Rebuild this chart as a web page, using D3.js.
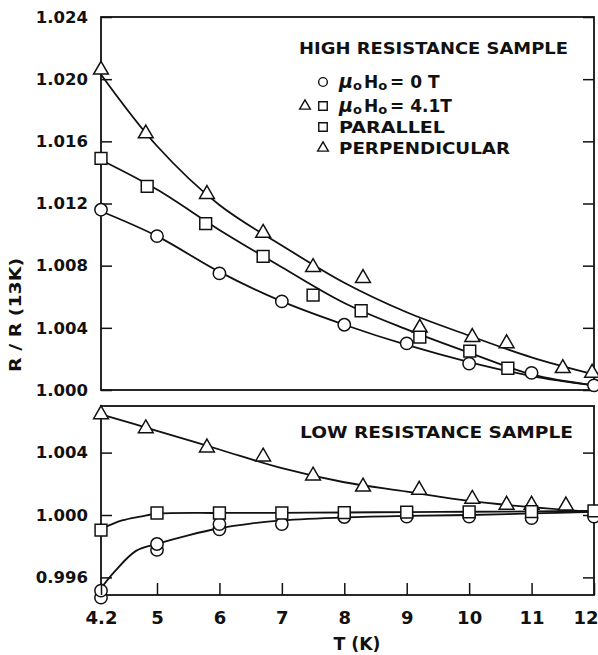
<!DOCTYPE html>
<meta charset="utf-8">
<script src="https://d3js.org/d3.v7.min.js"></script>
<style>
  body { margin: 0; background: #fff; }
  text { font-family: "DejaVu Sans", "Liberation Sans", sans-serif; font-weight: bold; fill: #111; }
</style>
<div id="chart"></div>
<script>
// ---- data ----
// high resistance sample (upper panel)
var hiCircleT = [4.2, 5, 6, 7, 8, 9, 10, 11, 12]
var hiCircleR = [1.0116, 1.0099, 1.0075, 1.0057, 1.0042, 1.0030, 1.0017, 1.0011, 1.0003]
var hiSquareT = [4.2, 4.86, 5.78, 6.7, 7.5, 8.27, 9.21, 10.01, 10.62]
var hiSquareR = [1.0149, 1.0131, 1.0107, 1.0086, 1.0061, 1.0051, 1.0034, 1.0025, 1.0014]
var hiTriT = [4.2, 4.84, 5.8, 6.7, 7.5, 8.3, 9.21, 10.05, 10.6, 11.5, 11.97]
var hiTriR = [1.0206, 1.0165, 1.0126, 1.0101, 1.0079, 1.0072, 1.0040, 1.0034, 1.0030, 1.0014, 1.0011]
// drawn fit curves
var fitT = [4.2, 5, 6, 7, 8, 9, 10, 11, 12]
var hiCircleFit = [1.0115, 1.0099, 1.0076, 1.0057, 1.0042, 1.0029, 1.0018, 1.0009, 1.0003]
var hiSquareFit = [1.0148, 1.0129, 1.0103, 1.0079, 1.0056, 1.0039, 1.0024, 1.0010, 1.0003]
var hiTriFit = [1.0203, 1.0157, 1.0119, 1.0093, 1.0069, 1.0050, 1.0035, 1.0021, 1.0010]

// low resistance sample (lower panel)
var loCircleT = [4.2, 5, 6, 7, 8, 9, 10, 11, 12]
var loCircleR = [0.99515, 0.99814, 0.99942, 0.99942, 0.99987, 0.9999, 0.9999, 0.9998, 0.9999]
var loCircle2T = [4.2, 5, 6]
var loCircle2R = [0.9947, 0.99776, 0.99908]
var loSquareT = [4.2, 5, 6, 7, 8, 9, 10, 11, 12]
var loSquareR = [0.99903, 1.00013, 1.00013, 1.00013, 1.00015, 1.00018, 1.0002, 1.00022, 1.00026]
var loTriT = [4.2, 4.84, 5.8, 6.7, 7.5, 8.3, 9.2, 10.05, 10.6, 11.0, 11.55]
var loTriR = [1.00645, 1.00555, 1.00432, 1.00374, 1.00252, 1.00181, 1.00161, 1.00103, 1.00065, 1.00065, 1.0006]
var loTriFit = [1.00645, 1.0054, 1.0042, 1.0030, 1.0021, 1.0015, 1.0009, 1.0005, 1.0002]
var loSquareFitT = [4.2, 4.5, 4.76, 5, 6, 7, 8, 9, 10, 11, 12]
var loSquareFit = [0.9991, 0.99965, 0.9999, 1.00008, 1.00013, 1.00014, 1.00016, 1.00019, 1.00021, 1.00023, 1.00026]
var loCircleFitT = [4.2, 4.4, 4.7, 5, 5.5, 6, 6.5, 7, 8, 9, 10, 11, 12]
var loCircleFit = [0.9953, 0.9964, 0.9977, 0.99815, 0.9987, 0.99915, 0.99945, 0.99965, 0.99985, 0.99995, 1.0000, 1.0001, 1.0002]

var xTicks = [4.2, 5, 6, 7, 8, 9, 10, 11, 12]
var hiTicks = [1.000, 1.004, 1.008, 1.012, 1.016, 1.020, 1.024]
var loTicks = [0.996, 1.000, 1.004]

const W = 598, H = 655
const svg = d3.select("#chart").append("svg")
  .attr("width", W).attr("height", H)

// x axis of the original is slightly stretched between 4.2 and 5
const x = d3.scaleLinear().domain([4.2, 5, 12]).range([101, 157, 594])
const yHi = d3.scaleLinear().domain([1.000, 1.024]).range([390, 17])
const yLo = d3.scaleLinear().domain([0.99487, 1.00699]).range([595, 406])

function pairs(t, r) { return t.map((d, i) => [d, r[i]]) }

function styleTicks(a, size) {
  a.select(".domain").remove()
  a.selectAll("line").attr("stroke", "#111").attr("stroke-width", 1.5)
  a.selectAll("text").attr("font-size", size)
    .attr("font-family", "DejaVu Sans").attr("font-weight", "bold").attr("fill", "#111")
}

function panel(y, ticks) {
  const g = svg.append("g")
  g.append("rect")
    .attr("x", x.range()[0]).attr("y", y.range()[1])
    .attr("width", x.range()[2] - x.range()[0])
    .attr("height", y.range()[0] - y.range()[1])
    .attr("fill", "none").attr("stroke", "#111").attr("stroke-width", 1.8)

  g.append("g").attr("transform", `translate(${x.range()[0]},0)`)
    .call(d3.axisLeft(y).tickValues(ticks).tickSize(-11).tickPadding(13)
      .tickFormat(d3.format(".3f")))
    .call(a => styleTicks(a, 16.5))

  g.append("g").attr("transform", `translate(${x.range()[2]},0)`)
    .call(d3.axisRight(y).tickValues(ticks).tickSize(-11).tickFormat(""))
    .call(a => styleTicks(a, 16))
  return g
}

const gHi = panel(yHi, hiTicks)
const gLo = panel(yLo, loTicks)

// bottom x axis
svg.append("g").attr("transform", "translate(0,595)")
  .call(d3.axisBottom(x).tickValues(xTicks).tickSize(-12).tickPadding(16)
    .tickFormat(d => d === 4.2 ? "4.2" : d3.format("d")(d)))
  .call(a => styleTicks(a, 18))
  .call(a => a.selectAll("text").filter(d => d === 12)
    .attr("text-anchor", "end").attr("x", 4))

function curve(g, y, t, r) {
  g.append("path")
    .datum(pairs(t, r))
    .attr("fill", "none").attr("stroke", "#111").attr("stroke-width", 1.8)
    .attr("d", d3.line().curve(d3.curveCatmullRom).x(d => x(d[0])).y(d => y(d[1])))
}

const sym = {
  circle: d3.symbol().type(d3.symbolCircle).size(120),
  square: d3.symbol().type(d3.symbolSquare).size(140),
  triangle: d3.symbol().type(d3.symbolTriangle).size(95)
}

function marks(g, y, t, r, kind) {
  g.selectAll(null)
    .data(pairs(t, r))
    .join("path")
    .attr("transform", d => `translate(${x(d[0])},${y(d[1])})`)
    .attr("d", sym[kind])
    .attr("fill", "#fff").attr("stroke", "#111").attr("stroke-width", 1.5)
}

// upper panel
curve(gHi, yHi, fitT, hiTriFit)
curve(gHi, yHi, fitT, hiSquareFit)
curve(gHi, yHi, fitT, hiCircleFit)
marks(gHi, yHi, hiTriT, hiTriR, "triangle")
marks(gHi, yHi, hiCircleT, hiCircleR, "circle")
marks(gHi, yHi, hiSquareT, hiSquareR, "square")

// lower panel
curve(gLo, yLo, fitT, loTriFit)
curve(gLo, yLo, loCircleFitT, loCircleFit)
curve(gLo, yLo, loSquareFitT, loSquareFit)
marks(gLo, yLo, loTriT, loTriR, "triangle")
marks(gLo, yLo, loCircle2T, loCircle2R, "circle")
marks(gLo, yLo, loCircleT, loCircleR, "circle")
marks(gLo, yLo, loSquareT, loSquareR, "square")

// panel titles
svg.append("text").attr("x", 299).attr("y", 54).attr("font-size", 16)
  .attr("font-family", "Liberation Sans")
  .attr("textLength", 269).attr("lengthAdjust", "spacingAndGlyphs")
  .text("HIGH RESISTANCE SAMPLE")
svg.append("text").attr("x", 300).attr("y", 438).attr("font-size", 16)
  .attr("font-family", "Liberation Sans")
  .attr("textLength", 273).attr("lengthAdjust", "spacingAndGlyphs")
  .text("LOW RESISTANCE SAMPLE")

// legend
const leg = svg.append("g").attr("font-family", "Liberation Sans")
const smallSym = {
  circle: d3.symbol().type(d3.symbolCircle).size(60),
  square: d3.symbol().type(d3.symbolSquare).size(72),
  triangle: d3.symbol().type(d3.symbolTriangle).size(50)
}
const legendRows = [
  { y: 82, syms: [["circle", 323]] },
  { y: 106, syms: [["triangle", 305], ["square", 323]] },
  { y: 127, syms: [["square", 323]] },
  { y: 148, syms: [["triangle", 323]] }
]
legendRows.forEach(row => {
  row.syms.forEach(s => {
    leg.append("path").attr("transform", `translate(${s[1]},${row.y})`)
      .attr("d", smallSym[s[0]]).attr("fill", "#fff").attr("stroke", "#111").attr("stroke-width", 1.4)
  })
})
function fieldLabel(yy, value) {
  const t = leg.append("text").attr("x", 339).attr("y", yy).attr("font-size", 17)
    .attr("font-family", "Liberation Sans")
  t.append("tspan").attr("font-style", "italic").attr("font-size", 19).text("μ")
  t.append("tspan").attr("font-size", 13).attr("dy", 2).text("o")
  t.append("tspan").attr("dy", -2).attr("dx", 2).text("H")
  t.append("tspan").attr("font-size", 13).attr("dy", 2).text("o")
  t.append("tspan").attr("dy", -2).attr("dx", 3).text("= " + value)
}
fieldLabel(88, "0 T")
fieldLabel(112, "4.1T")
leg.append("text").attr("x", 339).attr("y", 133).attr("font-size", 16)
  .attr("font-family", "Liberation Sans")
  .attr("textLength", 106).attr("lengthAdjust", "spacingAndGlyphs").text("PARALLEL")
leg.append("text").attr("x", 339).attr("y", 154).attr("font-size", 16)
  .attr("font-family", "Liberation Sans")
  .attr("textLength", 171).attr("lengthAdjust", "spacingAndGlyphs").text("PERPENDICULAR")

// axis titles
svg.append("text").attr("transform", "translate(21,315) rotate(-90)")
  .attr("text-anchor", "middle").attr("font-size", 16.5)
  .attr("textLength", 114).attr("lengthAdjust", "spacingAndGlyphs")
  .text("R / R (13K)")
svg.append("text").attr("x", 357).attr("y", 650)
  .attr("text-anchor", "middle").attr("font-size", 18)
  .attr("textLength", 47).attr("lengthAdjust", "spacingAndGlyphs")
  .text("T (K)")
</script>
